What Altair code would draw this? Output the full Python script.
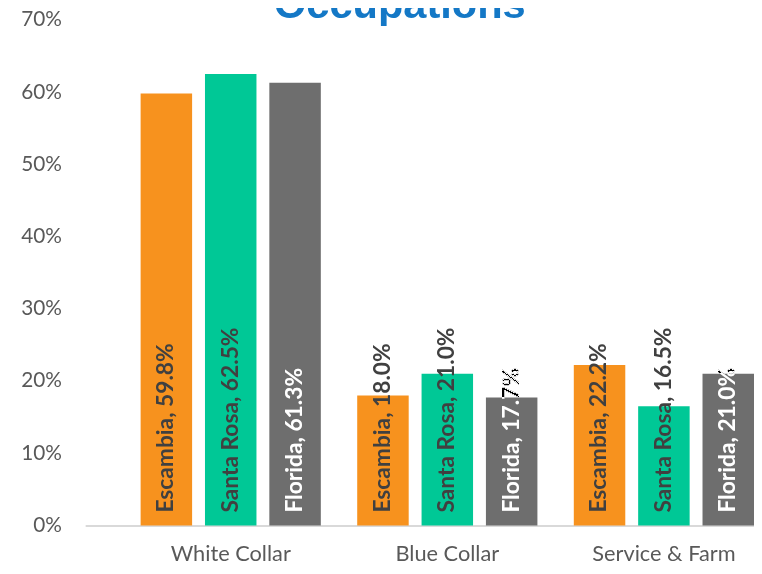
import altair as alt
import pandas as pd

title_text = ["Occupations"]
categories = ["White Collar", "Blue Collar", "Service & Farm"]
counties = ["Escambia", "Santa Rosa", "Florida"]
escambia = [59.8, 18.0, 22.2]
santa_rosa = [62.5, 21.0, 16.5]
florida = [61.3, 17.7, 21.0]
colors = ["#F7921E", "#00C896", "#6E6E6E"]

rows = []
for series_name, vals in zip(counties, [escambia, santa_rosa, florida]):
    for cat, v in zip(categories, vals):
        rows.append({"Category": cat, "County": series_name, "value": v / 100.0,
                     "label": f"{series_name}, {v:.1f}%", "base": 0.0})
df = pd.DataFrame(rows)

x_enc = alt.X("Category:N", sort=categories,
              scale=alt.Scale(paddingInner=0.168, paddingOuter=0.128, align=1),
              axis=alt.Axis(title=None, labelAngle=0, labelFont="Lato", labelFontSize=22,
                            labelColor="#595959", labelPadding=35, labelBaseline="alphabetic",
                            ticks=False, domainColor="#D9D9D9", domainWidth=2, grid=False))
xoff = alt.XOffset("County:N", sort=counties, scale=alt.Scale(paddingInner=0.2, paddingOuter=0))

base = alt.Chart(df)

bars = base.mark_bar().encode(
    x=x_enc,
    xOffset=xoff,
    y=alt.Y("value:Q", scale=alt.Scale(domain=[0, 0.7], nice=False),
            axis=alt.Axis(title=None, format=".0%", values=[0, 0.1, 0.2, 0.3, 0.4, 0.5, 0.6, 0.7],
                          labelFont="Lato", labelFontSize=21, labelColor="#595959",
                          labelPadding=24, ticks=False, domain=False, grid=False)),
    color=alt.Color("County:N", sort=counties, scale=alt.Scale(domain=counties, range=colors), legend=None),
)

text_props = dict(angle=270, align="left", baseline="middle", dx=13,
                  font="Lato", fontWeight="bold", fontSize=23)
text_enc = dict(
    x=alt.X("Category:N", sort=categories),
    xOffset=alt.XOffset("County:N", sort=counties),
    y=alt.Y("base:Q"),
    text="label:N",
)

labels_dark = base.transform_filter(alt.datum.County != "Florida").mark_text(
    color="#404040", **text_props).encode(**text_enc)
# Florida labels: white inside the grey bar, black where they run past the bar top
labels_fl1 = base.transform_filter(alt.datum.County == "Florida").mark_text(
    color="#FFFFFF", blend="difference", **text_props).encode(**text_enc)
labels_fl2 = base.transform_filter(alt.datum.County == "Florida").mark_text(
    color="#FFFFFF", blend="color-dodge", **text_props).encode(**text_enc)

title = alt.Chart(pd.DataFrame({"t": title_text})).mark_text(
    font="Liberation Sans", fontSize=42, fontWeight="bold", color="#1478C6",
    align="center", baseline="alphabetic").encode(
    x=alt.value(318), y=alt.value(-2), text="t:N")

chart = alt.layer(bars, labels_dark, labels_fl1, labels_fl2, title).properties(
    width=676, height=511,
    autosize=alt.AutoSizeParams(type="none"),
    padding={"left": 78, "top": 9, "right": 0, "bottom": 38},
).configure_view(stroke=None)

chart.save("out.html", embed_options={"renderer": "svg", "actions": False})
